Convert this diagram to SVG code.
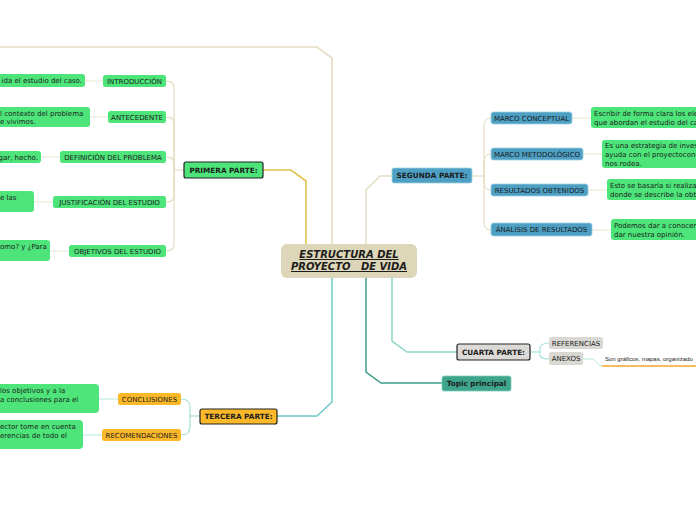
<svg xmlns="http://www.w3.org/2000/svg" width="696" height="520" viewBox="0 0 696 520">
<style>
text{font-family:"DejaVu Sans","Verdana",sans-serif;fill:#1c1c1c}
.t{font-size:7px}
.b{font-size:7.3px;font-weight:bold}
.n{font-size:7px}
.g{fill:#4de57a}
.blue{fill:#4d9fc4;stroke:#9fd0df;stroke-width:0.8}
.ora{fill:#fbb829}
.gray{fill:#dad8d3}
.c{fill:none;stroke-width:1.2}
.beige{stroke:#e4ddc2}
.yel{stroke:#e2c24c;stroke-width:1.6}
.teal{stroke:#6ccac4;stroke-width:1.5}
.lteal{stroke:#a3e0d6}
.ct{text-anchor:middle}
.e{text-anchor:end}
</style>
<rect width="696" height="520" fill="#ffffff"/>
<g id="connectors">
  <path class="c beige" style="stroke-width:1.6" d="M0,47 L317,47 L332,58 L332,244"/>
  <path class="c yel" d="M263,170 L291,170 L306,181 L306,244"/>
  <path class="c beige" style="stroke-width:1.5" d="M366,244 L366,190 L380,176 L392,176"/>
  <path class="c teal" d="M332,278 L332,402 L317,416 L277,416"/>
  <path class="c" style="stroke:#3d9e8a;stroke-width:1.5" d="M366,278 L366,372 L381,383 L442,383"/>
  <path class="c" style="stroke:#8cd6c8;stroke-width:1.5" d="M392,278 L392,341 L407,352 L457,352"/>
  <path class="c beige" d="M184,170 L174,170"/>
  <path class="c beige" d="M166,81 C172,81 174,83 174,89 L174,170"/>
  <path class="c beige" d="M166,117 C172,117 174,119 174,125 L174,170"/>
  <path class="c beige" d="M166,157 C172,157 174,159 174,165 L174,170"/>
  <path class="c beige" d="M166,202 C172,202 174,200 174,194 L174,170"/>
  <path class="c beige" d="M166,251 C172,251 174,249 174,243 L174,170"/>
  <path class="c beige" style="stroke-width:0.8" d="M103,81 L85,81 M108,117 L90,117 M60,157 L41,157 M53,202 L34,202 M69,251 L50,251"/>
  <path class="c beige" d="M472,176 L484,176"/>
  <path class="c beige" d="M491,118 C486,118 484,120 484,126 L484,176"/>
  <path class="c beige" d="M491,154 C486,154 484,156 484,162 L484,176"/>
  <path class="c beige" d="M491,190 C486,190 484,188 484,182 L484,176"/>
  <path class="c beige" d="M491,230 C486,230 484,228 484,222 L484,176"/>
  <path class="c beige" style="stroke-width:0.8" d="M572,118 L591,118 M583,154 L602,154 M588,190 L607,190 M592,230 L611,230"/>
  <path class="c lteal" d="M200,416 L190,416"/>
  <path class="c lteal" d="M181,399 C187,399 190,401 190,407 L190,416"/>
  <path class="c lteal" d="M181,435 C187,435 190,433 190,427 L190,416"/>
  <path class="c lteal" style="stroke-width:0.8" d="M118,399 L99,399 M102,435 L83,435"/>
  <path class="c lteal" d="M530,352 L540,352"/>
  <path class="c lteal" d="M549,343 C543,343 540,345 540,349 L540,352"/>
  <path class="c lteal" d="M549,359 C543,359 540,357 540,355 L540,352"/>
  <path class="c lteal" style="stroke-width:0.8" d="M583,359 L592,359 C596,359 597,366 602,366"/>
  <path class="c" style="stroke:#f6a623;stroke-width:1.5" d="M602,366 L696,366"/>
</g>
<g id="center">
  <rect x="281" y="244" width="136" height="34" rx="6" fill="#ddd6b8"/>
  <text class="ct" x="349" y="258" style="font-size:10px;font-weight:bold;font-style:italic;text-decoration:underline">ESTRUCTURA DEL </text>
  <text class="ct" x="349" y="270" style="font-size:10px;font-weight:bold;font-style:italic;text-decoration:underline;white-space:pre" xml:space="preserve">PROYECTO   DE VIDA</text>
</g>
<g id="primera">
  <rect class="g" x="184" y="162" width="79" height="16" rx="2" stroke="#222" stroke-width="1.2"/>
  <text class="b ct" x="223.5" y="172.5">PRIMERA PARTE:</text>
</g>
<g id="introduccion"><rect class="g" x="103" y="75" width="63" height="12" rx="2.5"/><text class="t ct" x="134.5" y="83.5">INTRODUCCIÓN</text></g>
<g id="antecedente"><rect class="g" x="108" y="111" width="58" height="12" rx="2.5"/><text class="t ct" x="137" y="119.5">ANTECEDENTE</text></g>
<g id="definicion"><rect class="g" x="60" y="151" width="106" height="12" rx="2.5"/><text class="t ct" x="113" y="159.5">DEFINICIÓN DEL PROBLEMA</text></g>
<g id="justificacion"><rect class="g" x="53" y="196" width="113" height="12" rx="2.5"/><text class="t ct" x="109.5" y="204.5">JUSTIFICACIÓN DEL ESTUDIO</text></g>
<g id="objetivos"><rect class="g" x="69" y="245" width="97" height="12" rx="2.5"/><text class="t ct" x="117.5" y="253.5">OBJETIVOS DEL ESTUDIO</text></g>
<g id="nota-intro"><rect class="g" x="-10" y="74" width="95" height="13" rx="3"/><text class="n e" x="82" y="83">ida el estudio del caso.</text></g>
<g id="nota-antec"><rect class="g" x="-10" y="107" width="100" height="20" rx="3"/><text class="n" x="0" y="116">l contexto del problema</text><text class="n" x="0" y="124">e vivimos.</text></g>
<g id="nota-def"><rect class="g" x="-10" y="151" width="51" height="12" rx="3"/><text class="n e" x="38" y="159.5">gar, hecho.</text></g>
<g id="nota-just"><rect class="g" x="-10" y="191" width="44" height="21" rx="3"/><text class="n" x="0" y="200">e las</text></g>
<g id="nota-obj"><rect class="g" x="-10" y="240" width="60" height="21" rx="3"/><text class="n" x="0" y="249">omo? y ¿Para</text></g>
<g id="segunda">
  <rect class="blue" x="392" y="168" width="80" height="15" rx="2"/>
  <text class="b ct" x="432" y="178">SEGUNDA PARTE:</text>
</g>
<g id="marco-conceptual"><rect class="blue" x="491" y="112" width="81" height="12" rx="2.5"/><text class="t ct" x="531.5" y="120.5">MARCO CONCEPTUAL</text></g>
<g id="marco-metodologico"><rect class="blue" x="491" y="148" width="92" height="12" rx="2.5"/><text class="t ct" x="537" y="156.5">MARCO METODOLÓGICO</text></g>
<g id="resultados"><rect class="blue" x="491" y="184" width="97" height="12" rx="2.5"/><text class="t ct" x="539.5" y="192.5">RESULTADOS OBTENIDOS</text></g>
<g id="analisis"><rect class="blue" x="491" y="223" width="101" height="13" rx="2.5"/><text class="t ct" x="541.5" y="232">ÁNALISIS DE RESULTADOS</text></g>
<g id="nota-conceptual"><rect class="g" x="591" y="107" width="115" height="21" rx="3"/><text class="n" x="594" y="116">Escribir de forma clara los ele</text><text class="n" x="594" y="125">que abordan el estudio del ca</text></g>
<g id="nota-metodo"><rect class="g" x="602" y="140" width="104" height="28" rx="3"/><text class="n" x="605" y="148">Es una estrategia de inves</text><text class="n" x="605" y="157">ayuda con el proyectocons</text><text class="n" x="605" y="166">nos rodea.</text></g>
<g id="nota-result"><rect class="g" x="607" y="179" width="99" height="21" rx="3"/><text class="n" x="610" y="188">Esto se basaría si realiza</text><text class="n" x="610" y="197">donde se describe la obt</text></g>
<g id="nota-analisis"><rect class="g" x="611" y="219" width="95" height="21" rx="3"/><text class="n" x="614" y="228">Podemos dar a conocer</text><text class="n" x="614" y="237">dar nuestra opinión.</text></g>
<g id="tercera">
  <rect class="ora" x="200" y="409" width="77" height="15" rx="2" stroke="#222" stroke-width="1.2"/>
  <text class="b ct" x="238.5" y="419">TERCERA PARTE:</text>
</g>
<g id="conclusiones"><rect class="ora" x="118" y="393" width="63" height="12" rx="2.5"/><text class="t ct" x="149.5" y="401.5">CONCLUSIONES</text></g>
<g id="recomendaciones"><rect class="ora" x="102" y="429" width="79" height="12" rx="2.5"/><text class="t ct" x="141.5" y="437.5">RECOMENDACIONES</text></g>
<g id="nota-concl"><rect class="g" x="-10" y="384" width="109" height="29" rx="4"/><text class="n" x="0" y="393">los objetivos y a la</text><text class="n" x="0" y="402">a conclusiones para el</text></g>
<g id="nota-recom"><rect class="g" x="-10" y="420" width="93" height="29" rx="4"/><text class="n" x="0" y="429">ector tome en cuenta</text><text class="n" x="0" y="438">erencias de todo el</text></g>
<g id="cuarta">
  <rect x="457" y="344" width="73" height="16" rx="2" fill="#dcdad6" stroke="#222" stroke-width="1.2"/>
  <text class="b ct" x="493.5" y="354.5">CUARTA PARTE:</text>
</g>
<g id="referencias"><rect class="gray" x="549" y="337" width="54" height="12" rx="2.5"/><text class="t ct" x="576" y="345.5">REFERENCIAS</text></g>
<g id="anexos"><rect class="gray" x="549" y="352" width="34" height="13" rx="2.5"/><text class="t ct" x="566" y="361">ANEXOS</text></g>
<g id="nota-anexos"><text x="605" y="361" style="font-size:6px;font-family:'Liberation Sans','DejaVu Sans',sans-serif">Son gráficos, mapas, organizado</text></g>
<g id="topic">
  <rect x="442" y="376" width="69" height="15" rx="2" fill="#3ea58c" stroke="#7fcdb8" stroke-width="0.8"/>
  <text class="b ct" x="476.5" y="386">Topic principal</text>
</g>
</svg>
